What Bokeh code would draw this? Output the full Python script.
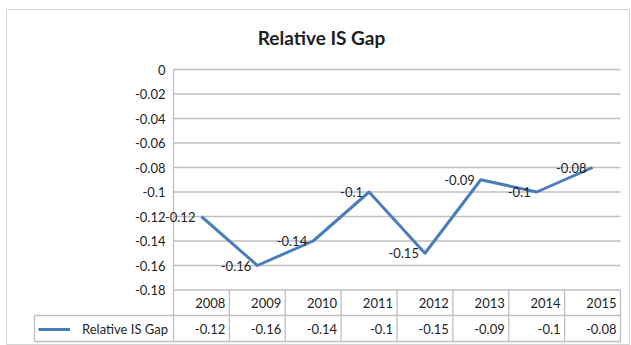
from bokeh.plotting import figure
from bokeh.models import ColumnDataSource, Range1d, Label, Legend, LegendItem
from bokeh.embed import file_html
from bokeh.resources import INLINE
from bokeh.core.properties import value

# ---------------- data ----------------
years = ["2008", "2009", "2010", "2011", "2012", "2013", "2014", "2015"]
gap = [-0.12, -0.16, -0.14, -0.10, -0.15, -0.09, -0.10, -0.08]
y_ticks = [0, -0.02, -0.04, -0.06, -0.08, -0.10, -0.12, -0.14, -0.16, -0.18]
y_tick_labels = ["0", "-0.02", "-0.04", "-0.06", "-0.08", "-0.1", "-0.12", "-0.14", "-0.16", "-0.18"]
chart_title = "Relative IS Gap"
series_name = "Relative IS Gap"

# ---------------- layout / style ----------------
FONT = "Lato"
PX = 55.875      # pixels per category
YPX = 1225.0     # pixels per y unit
LINE_C = "#4a7ebb"
GRID_C = "#bfbfbf"
TXT_C = "#1e1e1e"

n = len(years)
idx = list(range(n))
x_lo, x_hi = -0.5, n - 0.5
y_top, y_bot = y_ticks[0], y_ticks[-1]
row1_bot = y_bot - 25.5 / YPX
row2_bot = row1_bot - 26.0 / YPX
leg_left = x_lo - 139 / PX

p = figure(width=631, height=345, title=None,
           x_range=Range1d(x_lo - 167 / PX, x_hi + 9 / PX),
           y_range=Range1d(-(345 - 69) / YPX, (69 - 9) / YPX),
           x_axis_type=None, y_axis_type=None,
           toolbar_location=None, output_backend="svg",
           min_border_left=6, min_border_top=9, min_border_right=2, min_border_bottom=0)
p.xgrid.visible = False
p.ygrid.visible = False
p.outline_line_color = "#d4d4d4"
p.background_fill_color = "white"
p.border_fill_color = "white"

# horizontal gridlines (the last one is the table top)
p.segment(x0=[x_lo] * len(y_ticks), x1=[x_hi] * len(y_ticks), y0=y_ticks, y1=y_ticks,
          line_color=GRID_C, line_width=1.3)
# axis line / table left border
p.segment(x0=[x_lo], x1=[x_lo], y0=[y_top], y1=[row2_bot], line_color=GRID_C, line_width=1.3)
# table column boundaries
bx = [i + 0.5 for i in idx]
p.segment(x0=bx, x1=bx, y0=[y_bot] * n, y1=[row2_bot] * n, line_color=GRID_C, line_width=1.3)
# table row lines and legend cell border
p.segment(x0=[leg_left, leg_left, leg_left], x1=[x_hi, x_hi, leg_left],
          y0=[row1_bot, row2_bot, row1_bot], y1=[row1_bot, row2_bot, row2_bot],
          line_color=GRID_C, line_width=1.3)

# series line
src = ColumnDataSource(dict(x=idx, y=gap, lab=[str(v) for v in gap],
                            bx=bx, year=years,
                            hy=[(y_bot + row1_bot) / 2] * n,
                            vy=[(row1_bot + row2_bot) / 2] * n))
line_r = p.line("x", "y", source=src, line_color=LINE_C, line_width=3, line_join="round")

# data labels
p.text("x", "y", text="lab", source=src, x_offset=-6, text_align="right", text_baseline="middle",
       text_font=value(FONT), text_font_size=value("13px"), text_color=TXT_C)

# y tick labels
p.text(x=[x_lo] * len(y_ticks), y=y_ticks, text=y_tick_labels, x_offset=-8,
       text_align="right", text_baseline="middle",
       text_font=value(FONT), text_font_size=value("13px"), text_color=TXT_C)

# table: header (years) and values
p.text("bx", "hy", text="year", source=src, x_offset=-4, text_align="right", text_baseline="middle",
       text_font=value(FONT), text_font_size=value("13px"), text_color=TXT_C)
p.text("bx", "vy", text="lab", source=src, x_offset=-4, text_align="right", text_baseline="middle",
       text_font=value(FONT), text_font_size=value("13px"), text_color=TXT_C)

# title
p.add_layout(Label(x=x_lo + (321 - 173) / PX, y=(69 - 37) / YPX, text=chart_title,
                   text_align="center", text_baseline="middle", text_font=FONT,
                   text_font_size="19px", text_font_style="bold", text_color=TXT_C))

# legend key in the table row
legend = Legend(items=[LegendItem(label=series_name, renderers=[line_r])],
                location=(32, 6), padding=0, margin=0, spacing=0,
                glyph_width=32, glyph_height=20, label_standoff=12,
                label_text_font=FONT, label_text_font_size="13px", label_text_color=TXT_C,
                border_line_color=None, background_fill_alpha=0)
p.add_layout(legend, "center")

open("out.html", "w").write(file_html(p, INLINE))
